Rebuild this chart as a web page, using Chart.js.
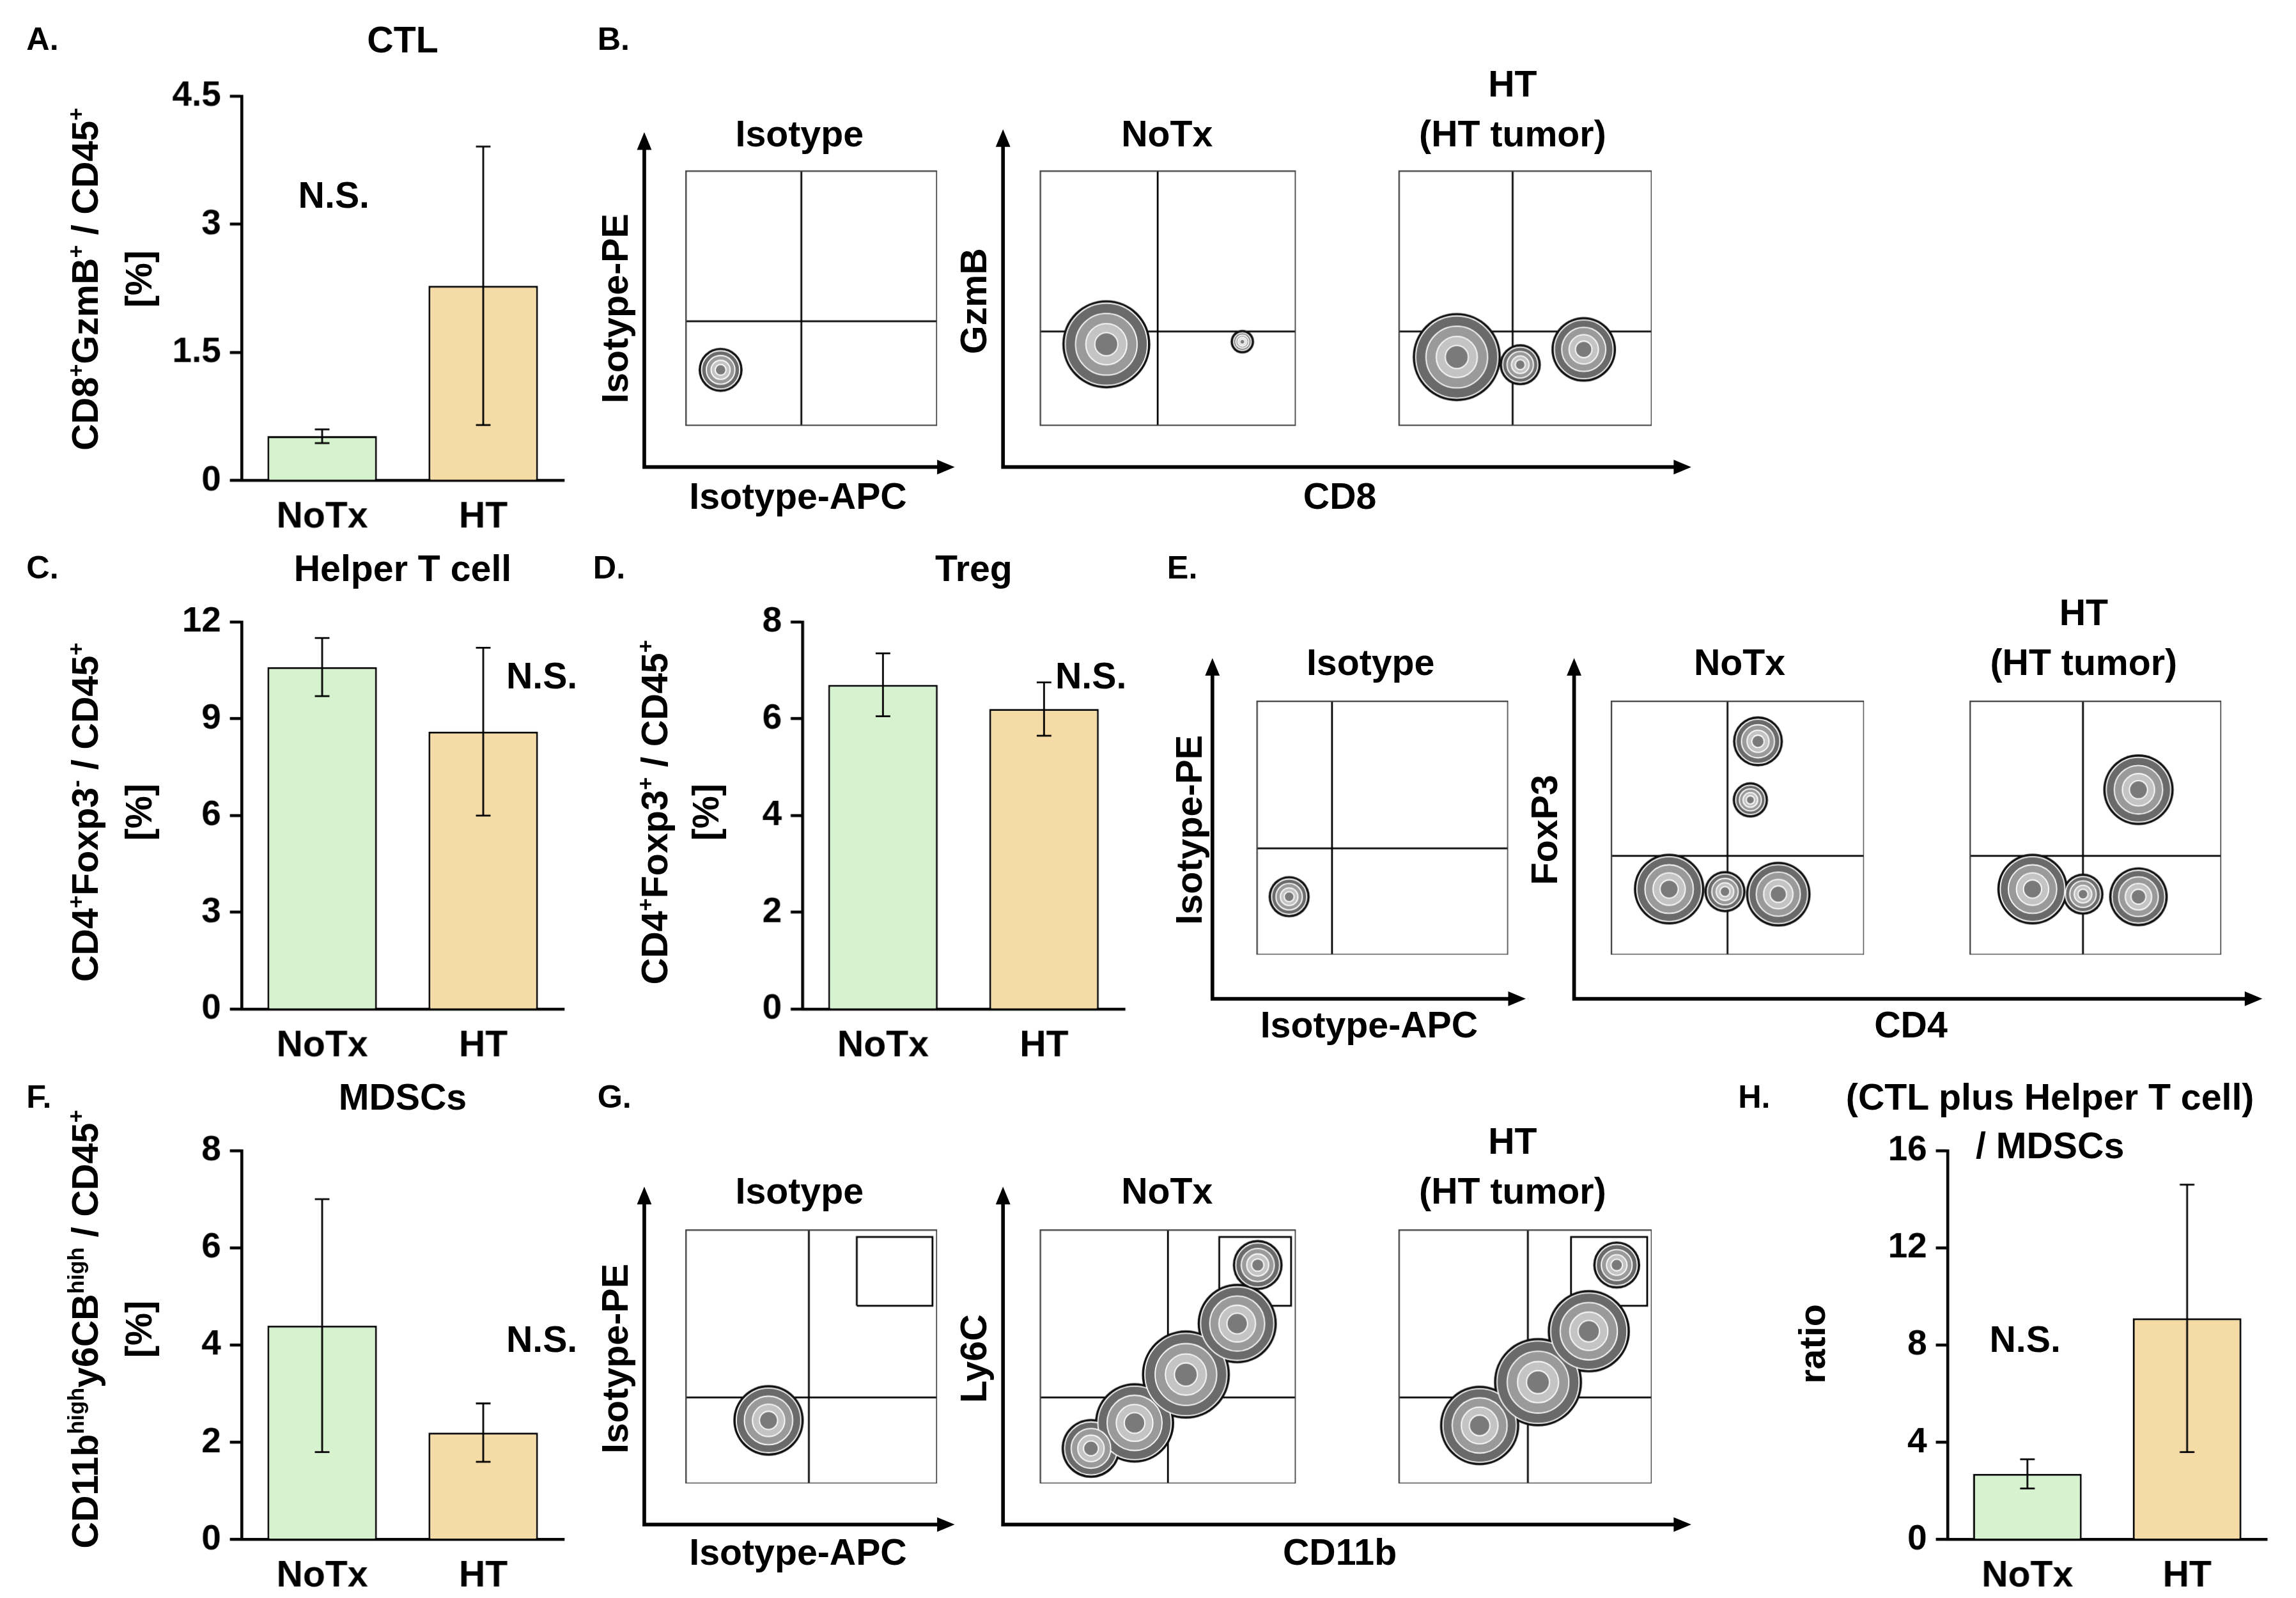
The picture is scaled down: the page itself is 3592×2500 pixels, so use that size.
<!DOCTYPE html>
<html><head><meta charset="utf-8">
<script src="https://cdn.jsdelivr.net/npm/chart.js@4.4.0/dist/chart.umd.min.js"></script>
<style>
body{margin:0;background:#fff;}
#wrap{position:absolute;left:0;top:0;width:1568px;height:1088px;transform:scale(2.2908,2.2978);transform-origin:0 0;font-family:"Liberation Sans",Arial,sans-serif;font-weight:bold;color:#000;}
canvas{position:absolute;}
.t{position:absolute;transform:translate(-50%,-50%);white-space:nowrap;font-size:25px;}
.l{position:absolute;transform:translate(0,-50%);font-size:22px;}
.r{position:absolute;transform:translate(-50%,-50%) rotate(-90deg);white-space:nowrap;font-size:25px;}
sup{font-size:60%;}
svg{position:absolute;left:0;top:0;}
</style></head><body>
<div id="wrap"></div>
<script>
// bar panel data
var groups = ["NoTx", "HT"];
var ctlVals = [0.52, 2.28], ctlErr = [0.08, 1.63];
var helperVals = [10.6, 8.6], helperErr = [0.9, 2.6];
var tregVals = [6.7, 6.2], tregErr = [0.65, 0.55];
var mdscVals = [4.4, 2.2], mdscErr = [2.6, 0.6];
var ratioVals = [2.7, 9.1], ratioErr = [0.6, 5.5];

// flow panels: blobs as [x, y, r] in box units 0-100
var bIso = [[14, 22, 13]];
var bNoTx = [[26, 32, 28], [79, 33, 6]];
var bHT = [[23, 27, 28], [48, 24, 12], [73, 30, 20]];
var eIso = [[13, 23, 12]];
var eNoTx = [[23, 26, 22], [45, 25, 12], [66, 24, 20], [55, 61, 10], [58, 84, 15]];
var eHT = [[25, 26, 22], [45, 24, 12], [67, 23, 18], [67, 65, 22]];
var gIso = [[33, 25, 22]];
var gNoTx = [[20, 14, 18], [37, 24, 25], [57, 43, 28], [77, 63, 25], [85, 86, 15]];
var gHT = [[32, 23, 25], [55, 40, 28], [75, 60, 26], [86, 86, 14]];

var wrap = document.getElementById("wrap");
var green = "#d6f2cf", tan = "#f5dca7";

function txt(cls, x, y, html){
  var d = document.createElement("div");
  d.className = cls; d.style.left = x + "px"; d.style.top = y + "px";
  d.innerHTML = html; wrap.appendChild(d);
}
function mkCanvas(l, t, w, h){
  var c = document.createElement("canvas");
  c.width = w; c.height = h;
  c.style.left = l + "px"; c.style.top = t + "px";
  c.style.width = w + "px"; c.style.height = h + "px";
  wrap.appendChild(c); return c;
}

var errPlugin = {
  id: "err",
  afterDatasetsDraw: function(chart){
    var errs = chart.options.plugins.err.errs;
    var vals = chart.data.datasets[0].data;
    var meta = chart.getDatasetMeta(0), ys = chart.scales.y, ctx = chart.ctx;
    ctx.save(); ctx.strokeStyle = "#000"; ctx.lineWidth = 1.2;
    meta.data.forEach(function(b, i){
      var y1 = ys.getPixelForValue(vals[i] + errs[i]), y2 = ys.getPixelForValue(vals[i] - errs[i]);
      ctx.beginPath();
      ctx.moveTo(b.x, y1); ctx.lineTo(b.x, y2);
      ctx.moveTo(b.x - 5, y1); ctx.lineTo(b.x + 5, y1);
      ctx.moveTo(b.x - 5, y2); ctx.lineTo(b.x + 5, y2);
      ctx.stroke();
    });
    ctx.restore();
  }
};

function barPanel(L, T, R, B, vals, errs, max, step){
  var c = mkCanvas(L - 60, T - 20, R - L + 70, B - T + 60);
  new Chart(c, {
    type: "bar",
    data: {labels: groups, datasets: [{data: vals, backgroundColor: [green, tan], borderColor: "#000", borderWidth: 1.3, barPercentage: 0.68, categoryPercentage: 1}]},
    options: {
      responsive: false, animation: false, devicePixelRatio: 2.3,
      layout: {padding: {top: 20, right: 10, left: 0, bottom: 0}},
      plugins: {legend: {display: false}, tooltip: {enabled: false}, err: {errs: errs}},
      scales: {
        y: {min: 0, max: max, afterFit: function(s){ s.width = 60; },
          ticks: {stepSize: step, color: "#000", font: {family: "Liberation Sans", size: 24, weight: "bold"}, padding: 6},
          grid: {drawOnChartArea: false, tickLength: 8, tickColor: "#000", tickWidth: 2},
          border: {color: "#000", width: 2}},
        x: {afterFit: function(s){ s.height = 40; },
          ticks: {color: "#000", font: {family: "Liberation Sans", size: 25, weight: "bold"}, padding: 2},
          grid: {display: false}, border: {color: "#000", width: 2}}
      }
    },
    plugins: [errPlugin]
  });
}

barPanel(165, 65, 385, 327, ctlVals, ctlErr, 4.5, 1.5);
barPanel(165, 423, 385, 687, helperVals, helperErr, 12, 3);
barPanel(548, 423, 768, 687, tregVals, tregErr, 8, 2);
barPanel(165, 783, 385, 1048, mdscVals, mdscErr, 8, 2);
barPanel(1330, 783, 1548, 1048, ratioVals, ratioErr, 16, 4);

var boxPlugin = {
  id: "box",
  afterDraw: function(chart){
    var a = chart.chartArea, ctx = chart.ctx;
    ctx.save(); ctx.strokeStyle = "#444"; ctx.lineWidth = 1;
    ctx.strokeRect(a.left + 0.5, a.top + 0.5, a.width - 1, a.height - 1);
    ctx.restore();
  }
};

var ringFill = ["#6a6a6a", "#9a9a9a", "#c4c4c4", "#7a7a7a", "#e8e8e8"];
function flowPanel(L, T, R, B, blobs, qx, qy, gate){
  var c = mkCanvas(L, T, R - L, B - T);
  var sets = [];
  sets.push({type: "line", data: [{x: qx, y: 0}, {x: qx, y: 100}], borderColor: "#000", borderWidth: 1.2, pointRadius: 0});
  sets.push({type: "line", data: [{x: 0, y: qy}, {x: 100, y: qy}], borderColor: "#000", borderWidth: 1.2, pointRadius: 0});
  if (gate) sets.push({type: "line", data: [{x: gate[0], y: gate[2]}, {x: gate[1], y: gate[2]}, {x: gate[1], y: gate[3]}, {x: gate[0], y: gate[3]}, {x: gate[0], y: gate[2]}], borderColor: "#000", borderWidth: 1.2, pointRadius: 0});
  sets.push({type: "bubble", data: blobs.map(function(b){ return {x: b[0], y: b[1], r: b[2] + 2}; }), backgroundColor: "#111", borderWidth: 0});
  [1, 0.75, 0.5, 0.28].forEach(function(f, k){
    sets.push({type: "bubble", data: blobs.map(function(b){ return {x: b[0], y: b[1], r: Math.max(1.5, b[2] * f)}; }), backgroundColor: ringFill[k], borderColor: "#fff", borderWidth: 0.8});
  });
  new Chart(c, {
    type: "scatter",
    data: {datasets: sets.reverse()},
    options: {
      responsive: false, animation: false, devicePixelRatio: 2.3,
      layout: {padding: 0, autoPadding: false},
      plugins: {legend: {display: false}, tooltip: {enabled: false}},
      scales: {x: {type: "linear", min: 0, max: 100, display: false}, y: {type: "linear", min: 0, max: 100, display: false}}
    },
    plugins: [boxPlugin]
  });
}

flowPanel(468, 116, 640, 290, bIso, 46, 41);
flowPanel(710, 116, 885, 290, bNoTx, 46, 37);
flowPanel(955, 116, 1128, 290, bHT, 45, 37);
flowPanel(858, 477, 1030, 650, eIso, 30, 42);
flowPanel(1100, 477, 1273, 650, eNoTx, 46, 39);
flowPanel(1345, 477, 1517, 650, eHT, 45, 39);
flowPanel(468, 837, 640, 1010, gIso, 49, 34, [68, 98, 70, 97]);
flowPanel(710, 837, 885, 1010, gNoTx, 50, 34, [70, 98, 70, 97]);
flowPanel(955, 837, 1128, 1010, gHT, 51, 34, [68, 98, 70, 97]);

// axis arrows
var arrows = [[440, 318, 90, 652], [685, 318, 88, 1155], [828, 680, 448, 1042], [1075, 680, 448, 1545], [440, 1038, 808, 652], [685, 1038, 808, 1155]];
var svg = '<svg width="1568" height="1088" xmlns="http://www.w3.org/2000/svg">';
arrows.forEach(function(a){
  var x = a[0], y = a[1], top = a[2], right = a[3];
  svg += '<polyline points="' + x + ',' + (top + 8) + ' ' + x + ',' + y + ' ' + (right - 8) + ',' + y + '" fill="none" stroke="#000" stroke-width="2.5"/>';
  svg += '<polygon points="' + x + ',' + top + ' ' + (x - 5) + ',' + (top + 12) + ' ' + (x + 5) + ',' + (top + 12) + '" fill="#000"/>';
  svg += '<polygon points="' + right + ',' + y + ' ' + (right - 12) + ',' + (y - 5) + ' ' + (right - 12) + ',' + (y + 5) + '" fill="#000"/>';
});
svg += '</svg>';
wrap.insertAdjacentHTML("beforeend", svg);

// text
txt("l", 18, 27, "A."); txt("t", 275, 27, "CTL"); txt("t", 228, 133, "N.S.");
txt("r", 58, 190, "CD8<sup>+</sup>GzmB<sup>+</sup> / CD45<sup>+</sup>"); txt("r", 95, 190, "[%]");
txt("l", 408, 27, "B.");
txt("t", 546, 91, "Isotype"); txt("t", 797, 91, "NoTx"); txt("t", 1033, 57, "HT"); txt("t", 1033, 91, "(HT tumor)");
txt("r", 420, 210, "Isotype-PE"); txt("t", 545, 338, "Isotype-APC"); txt("r", 665, 205, "GzmB"); txt("t", 915, 338, "CD8");

txt("l", 18, 387, "C."); txt("t", 275, 387, "Helper T cell"); txt("t", 370, 460, "N.S.");
txt("r", 58, 553, "CD4<sup>+</sup>Foxp3<sup>-</sup> / CD45<sup>+</sup>"); txt("r", 95, 553, "[%]");
txt("l", 405, 387, "D."); txt("t", 665, 387, "Treg"); txt("t", 745, 460, "N.S.");
txt("r", 447, 553, "CD4<sup>+</sup>Foxp3<sup>+</sup> / CD45<sup>+</sup>"); txt("r", 482, 553, "[%]");
txt("l", 797, 387, "E.");
txt("t", 936, 451, "Isotype"); txt("t", 1188, 451, "NoTx"); txt("t", 1423, 417, "HT"); txt("t", 1423, 451, "(HT tumor)");
txt("r", 812, 565, "Isotype-PE"); txt("t", 935, 698, "Isotype-APC"); txt("r", 1055, 565, "FoxP3"); txt("t", 1305, 698, "CD4");

txt("l", 18, 747, "F."); txt("t", 275, 747, "MDSCs"); txt("t", 370, 912, "N.S.");
txt("r", 58, 905, "CD11b<sup>high</sup>y6CB<sup>high</sup> / CD45<sup>+</sup>"); txt("r", 95, 905, "[%]");
txt("l", 408, 747, "G.");
txt("t", 546, 811, "Isotype"); txt("t", 797, 811, "NoTx"); txt("t", 1033, 777, "HT"); txt("t", 1033, 811, "(HT tumor)");
txt("r", 420, 925, "Isotype-PE"); txt("t", 545, 1057, "Isotype-APC"); txt("r", 665, 925, "Ly6C"); txt("t", 915, 1057, "CD11b");

txt("l", 1187, 747, "H."); txt("t", 1400, 747, "(CTL plus Helper T cell)"); txt("t", 1400, 780, "/ MDSCs");
txt("t", 1383, 912, "N.S."); txt("r", 1238, 915, "ratio");
</script>
</body></html>
